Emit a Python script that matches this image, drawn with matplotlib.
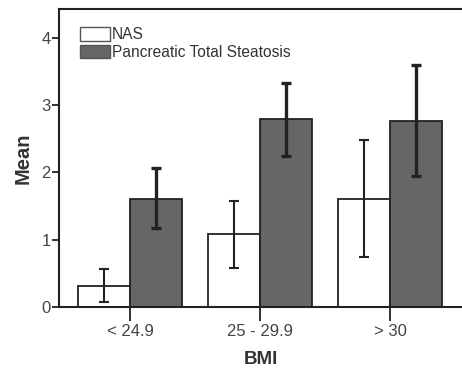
import numpy as np
import matplotlib.pyplot as plt
from matplotlib.patches import Patch

plt.rcParams['font.family'] = ['Liberation Sans', 'DejaVu Sans']

categories = ['< 24.9', '25 - 29.9', '> 30']
nas_mean = [0.32, 1.08, 1.61]
nas_low = [0.08, 0.585, 0.74]
nas_high = [0.56, 1.58, 2.49]
pts_mean = [1.61, 2.80, 2.77]
pts_low = [1.17, 2.25, 1.945]
pts_high = [2.06, 3.33, 3.59]

x = np.arange(len(categories))
w = 0.4

fig = plt.figure(figsize=(4.62, 3.74), dpi=100)
ax = fig.add_axes([0.128, 0.179, 0.872, 0.797])

nas_err = [np.array(nas_mean) - np.array(nas_low), np.array(nas_high) - np.array(nas_mean)]
pts_err = [np.array(pts_mean) - np.array(pts_low), np.array(pts_high) - np.array(pts_mean)]

ax.bar(x - w / 2, nas_mean, w, color='white', edgecolor='#222222', linewidth=1.3, zorder=2)
ax.bar(x + w / 2, pts_mean, w, color='#666666', edgecolor='#222222', linewidth=1.3, zorder=2)
ax.errorbar(x - w / 2, nas_mean, yerr=nas_err, fmt='none', ecolor='#222222',
            elinewidth=1.5, capsize=3.8, capthick=1.5, zorder=3)
ax.errorbar(x + w / 2, pts_mean, yerr=pts_err, fmt='none', ecolor='#222222',
            elinewidth=2.4, capsize=3.8, capthick=2.4, zorder=3)

ax.set_xlim(-0.545, 2.55)
ax.set_ylim(0, 4.43)
ax.set_yticks([0, 1, 2, 3, 4])
ax.set_xticks(x)
ax.set_xticklabels(categories)
ax.tick_params(axis='y', direction='out', length=5, width=1.3, colors='#222222',
               labelsize=12, labelcolor='#444444', pad=1)
ax.tick_params(axis='x', direction='out', length=10, width=1.3, colors='#222222',
               labelsize=12, labelcolor='#444444', pad=2)
for s in ['left', 'bottom', 'top']:
    ax.spines[s].set_linewidth(1.5)
    ax.spines[s].set_color('#222222')
ax.spines['right'].set_visible(False)

ax.set_ylabel('Mean', fontsize=14.5, fontweight='bold', color='#333333', labelpad=6)
ax.set_xlabel('BMI', fontsize=13.5, fontweight='bold', color='#333333', labelpad=9)

handles = [Patch(facecolor='white', edgecolor='#555555', linewidth=1),
           Patch(facecolor='#666666', edgecolor='#555555', linewidth=1)]
ax.legend(handles, ['NAS', 'Pancreatic Total Steatosis'], loc='upper left',
          frameon=False, fontsize=11.2, handlelength=1.95, handleheight=0.95,
          handletextpad=0.1, labelspacing=0.15, borderaxespad=0.3,
          labelcolor='#333333', bbox_to_anchor=(0.025, 0.975))

fig.savefig('out.png', dpi=100)
